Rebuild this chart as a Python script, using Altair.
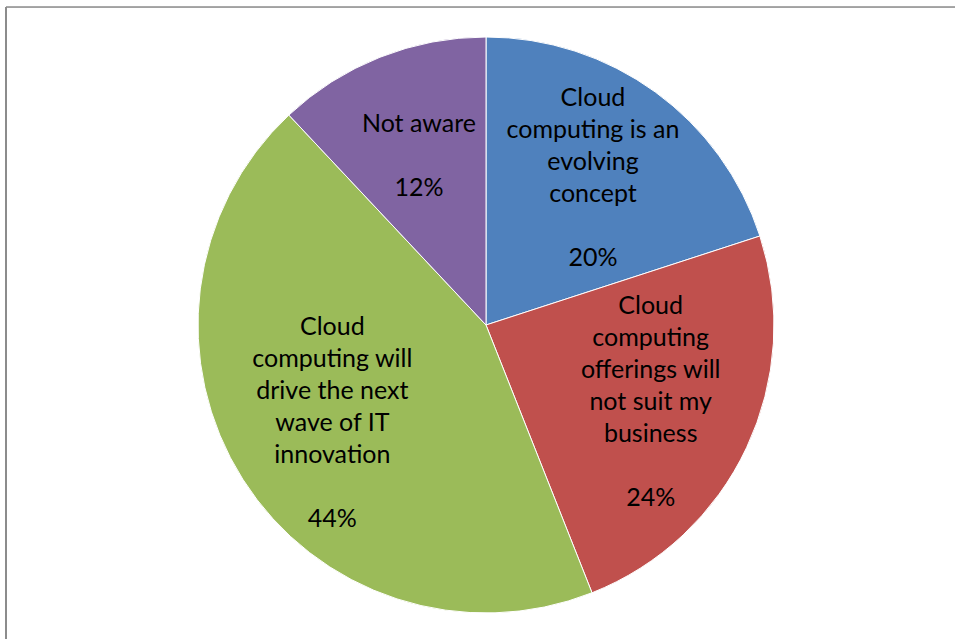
import altair as alt
import pandas as pd

categories = [
    "Cloud computing is an evolving concept",
    "Cloud computing offerings will not suit my business",
    "Cloud computing will drive the next wave of IT innovation",
    "Not aware",
]
name_lines = [
    "Cloud\ncomputing is an\nevolving\nconcept",
    "Cloud\ncomputing\nofferings will\nnot suit my\nbusiness",
    "Cloud\ncomputing will\ndrive the next\nwave of IT\ninnovation",
    "Not aware",
]
values = [20, 24, 44, 12]
colors = ["#4F81BD", "#C0504D", "#9BBB59", "#8064A2"]

W, H = 949, 632
CX, CY = 480, 318
LINE_H = 32
HALF = LINE_H / 2

df = pd.DataFrame({
    "category": categories,
    "name": name_lines,
    "value": values,
    "order": list(range(len(values))),
})
df["pct"] = df["value"].astype(str) + "%"
# total lines in block: name lines + blank line + percentage line
df["nlines"] = df["name"].str.count("\n") + 1 + 2

base = alt.Chart(df).encode(
    theta=alt.Theta("value:Q", stack=True),
    order=alt.Order("order:Q", sort="ascending"),
    x=alt.value(CX),
    y=alt.value(CY),
)

pie = base.mark_arc(outerRadius=288, stroke="white", strokeWidth=1).encode(
    color=alt.Color("category:N", scale=alt.Scale(domain=categories, range=colors), legend=None)
)

text_style = dict(
    radius=182,
    font="Lato",
    fontSize=25,
    lineHeight=LINE_H,
    lineBreak="\n",
    align="center",
    baseline="middle",
    color="black",
)

name_text = base.mark_text(
    dy=alt.expr(f"-(datum.nlines - 1) * {HALF}"), **text_style
).encode(text="name:N")

pct_text = base.mark_text(
    dy=alt.expr(f"(datum.nlines - 1) * {HALF}"), **text_style
).encode(text="pct:N")

frame_df = pd.DataFrame({"k": [0]})
left_rule = alt.Chart(frame_df).mark_rule(color="#8c8c8c", strokeWidth=2).encode(
    x=alt.value(0), y=alt.value(0), y2=alt.value(H)
)
top_rule = alt.Chart(frame_df).mark_rule(color="#8c8c8c", strokeWidth=1.5).encode(
    x=alt.value(0), x2=alt.value(W), y=alt.value(0)
)

chart = (
    alt.layer(pie, name_text, pct_text, left_rule, top_rule)
    .properties(
        width=W,
        height=H,
        autosize=alt.AutoSizeParams(type="none"),
        padding={"left": 6, "top": 7, "right": 0, "bottom": 0},
    )
    .configure_view(strokeOpacity=0)
    .configure(background="white")
)

chart.save("out.html", embed_options={"renderer": "svg", "actions": False})
